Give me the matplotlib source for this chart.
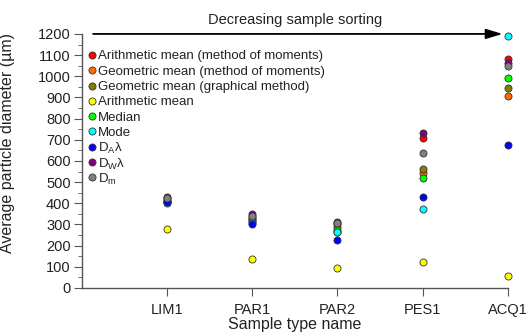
import matplotlib
matplotlib.use("Agg")
import matplotlib.pyplot as plt
from matplotlib.ticker import MultipleLocator

plt.rcParams['font.family'] = ['Liberation Sans', 'DejaVu Sans']
plt.rcParams['mathtext.fontset'] = 'custom'
plt.rcParams['mathtext.rm'] = 'Liberation Sans'
plt.rcParams['mathtext.it'] = 'Liberation Sans:italic'

samples = ['LIM1', 'PAR1', 'PAR2', 'PES1', 'ACQ1']

# average diameters (um) per sample, one list per estimator
arith_mom = [420, 335, 300, 710, 1082]
geo_mom = [412, 325, 288, 545, 907]
geo_graph = [410, 320, 262, 561, 943]
arith_mean = [280, 138, 96, 123, 57]
median = [405, 315, 275, 520, 990]
mode = [400, 305, 265, 375, 1190]
d_a = [408, 300, 228, 428, 675]
d_w = [432, 350, 310, 731, 1063]
d_m = [425, 342, 308, 639, 1050]

series = [
    ('Arithmetic mean (method of moments)', arith_mom, '#ff0000'),
    ('Geometric mean (method of moments)', geo_mom, '#ff6a00'),
    ('Geometric mean (graphical method)', geo_graph, '#808000'),
    ('Arithmetic mean', arith_mean, '#ffff00'),
    ('Median', median, '#00ff00'),
    ('Mode', mode, '#00ffff'),
    (r'D$_\mathrm{A}$λ', d_a, '#0000ff'),
    (r'D$_\mathrm{W}$λ', d_w, '#800080'),
    (r'D$_\mathrm{m}$', d_m, '#808080'),
]

fig = plt.figure(figsize=(5.28, 3.36), dpi=100)
ax = fig.add_axes([0.155, 0.143, 0.807, 0.756])

x = list(range(1, len(samples) + 1))
for label, vals, color in series:
    ax.scatter(x, vals, s=26, color=color, edgecolors='#333333',
               linewidths=0.6, zorder=3, clip_on=False)

# hand-placed legend so the subscripted labels stay on one baseline
for i, (label, vals, color) in enumerate(series):
    ly = 1 - (21 + 15.3 * i) / 254
    ax.scatter([0.023], [ly], s=26, color=color, edgecolors='#333333',
               linewidths=0.6, transform=ax.transAxes, clip_on=False)
    ax.text(0.037, ly, label, transform=ax.transAxes, fontsize=9.5,
            va='center_baseline', ha='left', color='#222222')

ax.set_xlim(0, 5)
ax.set_ylim(0, 1200)
ax.set_xticks(x)
ax.set_xticklabels(samples)
ax.yaxis.set_major_locator(MultipleLocator(100))
ax.yaxis.set_minor_locator(MultipleLocator(50))

for side in ('top', 'right'):
    ax.spines[side].set_visible(False)
for side in ('left', 'bottom'):
    ax.spines[side].set_color('#555555')
    ax.spines[side].set_linewidth(1.0)

ax.tick_params(axis='both', which='major', direction='out', length=6,
               color='#555555', labelsize=10.5, labelcolor='#222222')
ax.tick_params(axis='y', which='minor', direction='out', length=3,
               color='#555555')
ax.tick_params(axis='x', pad=5)
ax.tick_params(axis='y', pad=2)

ax.set_xlabel('Sample type name', fontsize=11.5, color='#222222', labelpad=0)
ax.set_ylabel('Average particle diameter (µm)', fontsize=11.5,
              color='#222222')
ax.yaxis.set_label_coords(-0.158, 0.57)

# sorting direction arrow above the plot
ax.annotate('', xy=(4.97, 1200), xytext=(0.1, 1200),
            arrowprops=dict(arrowstyle='-|>,head_length=1.0,head_width=0.3',
                            color='black', lw=1.3),
            annotation_clip=False)
ax.text(2.5, 1235, 'Decreasing sample sorting', ha='center', va='bottom',
        fontsize=10.5, color='#222222', clip_on=False)

fig.savefig('out.png', dpi=100)
